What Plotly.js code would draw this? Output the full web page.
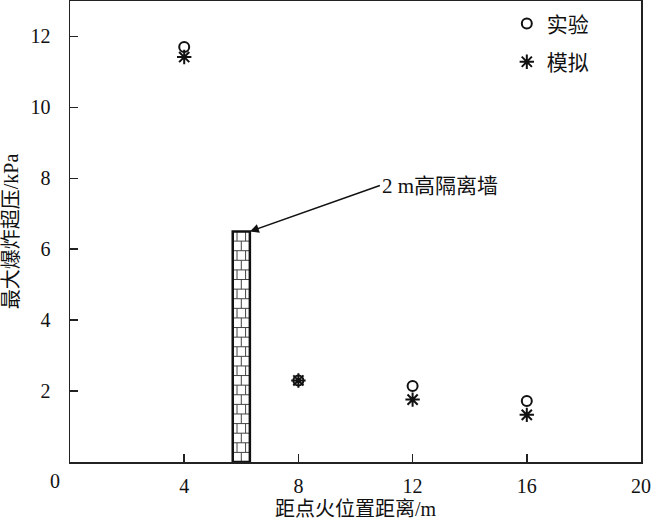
<!DOCTYPE html>
<html><head><meta charset="utf-8">
<script src="https://cdn.plot.ly/plotly-3.0.1.min.js"></script>
<style>body{margin:0;background:#fff}#c{width:651px;height:523px}</style>
</head><body><div id="c"></div>
<script>
const distances = [4, 8, 12, 16];
const experiment = [11.7, 2.3, 2.14, 1.72];
const simulation = [11.42, 2.3, 1.76, 1.33];
const xTicks = [4, 8, 12, 16, 20];
const yTicks = [2, 4, 6, 8, 10, 12];
const wallX = [5.7, 6.3];
const wallHeight = 6.5;
const wallLabel = '2 m高隔离墙';

const FONT = '"Liberation Serif", "Noto Sans CJK SC", serif';

const traces = [
  {x: distances, y: experiment, mode: 'markers', name: '实验', type: 'scatter', legendgroup: 'a',
   marker: {symbol: 'circle-open', size: 10, color: '#111', line: {width: 2, color: '#111'}}},
  {x: distances, y: simulation, mode: 'markers', name: '模拟', type: 'scatter', legendgroup: 'b',
   marker: {symbol: 'asterisk-open', size: 12, color: '#111', line: {width: 2, color: '#111'}}}
];

// brick wall drawing
const shapes = [];
const rows = 24;
const rh = wallHeight / rows;
const w = wallX[1] - wallX[0];
for (let i = 1; i < rows; i++) {
  shapes.push({type: 'line', xref: 'x', yref: 'y', x0: wallX[0], x1: wallX[1], y0: i * rh, y1: i * rh, line: {color: '#444', width: 1}});
}
for (let i = 0; i < rows; i++) {
  const fr = (i % 2 === 0) ? [0.5] : [0.25, 0.75];
  fr.forEach(f => shapes.push({type: 'line', xref: 'x', yref: 'y', x0: wallX[0] + f * w, x1: wallX[0] + f * w, y0: i * rh, y1: (i + 1) * rh, line: {color: '#444', width: 1}}));
}
shapes.push({type: 'rect', xref: 'x', yref: 'y', x0: wallX[0], x1: wallX[1], y0: 0, y1: wallHeight, line: {color: '#111', width: 2.5}});

const layout = {
  width: 651, height: 523,
  margin: {l: 70, r: 10, t: 1, b: 61},
  paper_bgcolor: '#fff', plot_bgcolor: '#fff',
  font: {family: FONT, size: 20, color: '#111'},
  showlegend: true,
  legend: {x: 0.765, y: 0.995, xanchor: 'left', yanchor: 'top', bgcolor: 'rgba(0,0,0,0)', font: {size: 21},
           itemwidth: 30, traceorder: 'grouped', tracegroupgap: 8},
  xaxis: {range: [0, 20], tickvals: xTicks, ticks: 'inside', ticklen: 8, tickwidth: 1.5, tickcolor: '#222',
          showline: true, linecolor: '#222', linewidth: 1.5, mirror: true, showgrid: false, zeroline: false,
          ticklabelstandoff: 5,
          title: {text: '距点火位置距离/m', font: {size: 20}, standoff: 6}},
  yaxis: {range: [0, 13], tickvals: yTicks, ticks: 'inside', ticklen: 8, tickwidth: 1.5, tickcolor: '#222',
          showline: true, linecolor: '#222', linewidth: 1.5, mirror: true, showgrid: false, zeroline: false,
          ticklabelstandoff: 14,
          title: {text: '最大爆炸超压/kPa', font: {size: 20}, standoff: 8}},
  shapes: shapes,
  annotations: [
    {xref: 'paper', yref: 'paper', x: 0, y: 0, text: '0', showarrow: false, xanchor: 'center', yanchor: 'top', xshift: -15, yshift: -6, font: {size: 20}},
    {xref: 'x', yref: 'y', x: wallX[1], y: wallHeight, text: wallLabel, showarrow: true, arrowhead: 2, arrowsize: 1.2, arrowwidth: 1.5, arrowcolor: '#111',
     ax: 130, ay: -46, xanchor: 'left', yanchor: 'middle', font: {size: 21}}
  ]
};

Plotly.newPlot('c', traces, layout, {displayModeBar: false, staticPlot: true});
</script></body></html>
